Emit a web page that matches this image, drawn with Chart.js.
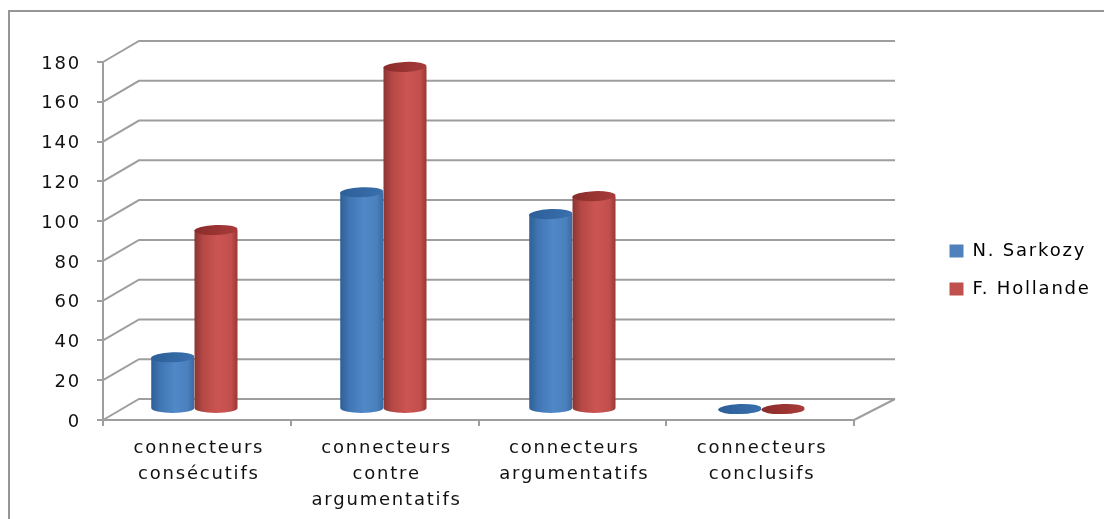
<!DOCTYPE html>
<html>
<head>
<meta charset="utf-8">
<title>Connecteurs</title>
<script src="https://cdn.jsdelivr.net/npm/chart.js@4"></script>
<style>
  html, body { margin: 0; padding: 0; background: #fff; }
  /* the reference is a soft, upscaled picture */
  canvas { display: block; filter: blur(0.5px); }
</style>
</head>
<body>
<canvas id="chart" width="1104" height="519"></canvas>
<script>
const categories = [
  ['connecteurs', 'consécutifs'],
  ['connecteurs', 'contre', 'argumentatifs'],
  ['connecteurs', 'argumentatifs'],
  ['connecteurs', 'conclusifs']
];
const sarkozy = [26, 109, 98, 0];
const hollande = [90, 172, 107, 0];
const seriesNames = ['N. Sarkozy', 'F. Hollande'];
const yTicks = [0, 20, 40, 60, 80, 100, 120, 140, 160, 180];

const fontName = '"DejaVu Sans", sans-serif';
const gridColor = '#9e9e9e';

// look of each cylinder: legend colour, side gradient, top cap
const looks = [
  { solid: '#4f81bd', capStops: ['#2d5f98', '#3a70ad'], stops: ['#2f5f96', '#3f75b2', '#5088c8', '#4a80bd', '#3a6aa2'] },
  { solid: '#c0504d', capStops: ['#8a2c2a', '#a83c3a'], stops: ['#8a3533', '#b54845', '#cc5552', '#c24f4c', '#9a3836'] }
];
const gradientStops = [0, 0.2, 0.55, 0.85, 1];

// 3D depth of the floor and walls
const backDx = 36, backDy = -21, rightDx = 41;
// cylinders stand half way through the depth, slightly wider spread than the axis
const barPivotX = 572, barSpread = 0.0067, barShiftY = -11, capRy = 5, capTilt = -0.04;

const chart3d = {
  id: 'chart3d',
  beforeDraw(chart) {
    const { ctx, width, height } = chart;
    ctx.letterSpacing = '1.8px';
    ctx.save();
    ctx.strokeStyle = '#969696';
    ctx.lineWidth = 2;
    ctx.beginPath();
    ctx.moveTo(9, height);
    ctx.lineTo(9, 11);
    ctx.lineTo(width, 11);
    ctx.stroke();
    ctx.restore();
  },
  afterLayout(chart) {
    // legend sits right of the plot, outside the chart area
    const legend = chart.legend;
    legend.left = 929.5;
    legend.right = 1100;
    legend.top = 222;
    legend.bottom = 500;
  },
  beforeDatasetsDraw(chart) {
    const { ctx, chartArea, scales } = chart;
    const left = chartArea.left, right = chartArea.right;
    ctx.save();
    ctx.strokeStyle = gridColor;
    ctx.lineWidth = 2;
    yTicks.forEach(v => {
      const y = scales.y.getPixelForValue(v);
      ctx.beginPath();
      ctx.moveTo(left, y);
      ctx.lineTo(left + backDx, y + backDy);
      ctx.lineTo(right + rightDx, y + backDy);
      ctx.stroke();
    });
    const y0 = scales.y.getPixelForValue(0);
    ctx.beginPath();
    ctx.moveTo(right, y0);
    ctx.lineTo(right + rightDx, y0 + backDy);
    ctx.stroke();
    ctx.restore();
  },
  afterDatasetsDraw(chart) {
    const { ctx } = chart;
    categories.forEach((c, i) => {
      looks.forEach((look, d) => {
        const bar = chart.getDatasetMeta(d).data[i];
        const x = bar.x + (bar.x - barPivotX) * barSpread, w = bar.width, rx = w / 2;
        const top = bar.y + barShiftY, base = bar.base + barShiftY;
        const grad = ctx.createLinearGradient(x - rx, 0, x + rx, 0);
        look.stops.forEach((s, k) => grad.addColorStop(gradientStops[k], s));
        ctx.save();
        ctx.fillStyle = grad;
        ctx.beginPath();
        ctx.moveTo(x - rx, top);
        ctx.lineTo(x - rx, base);
        ctx.ellipse(x, base, rx, capRy, 0, Math.PI, 0, true);
        ctx.lineTo(x + rx, top);
        ctx.closePath();
        ctx.fill();
        const capGrad = ctx.createLinearGradient(x - rx, 0, x + rx, 0);
        capGrad.addColorStop(0, look.capStops[0]);
        capGrad.addColorStop(1, look.capStops[1]);
        ctx.fillStyle = capGrad;
        ctx.beginPath();
        ctx.ellipse(x, top, rx, capRy, capTilt, 0, Math.PI * 2);
        ctx.fill();
        ctx.restore();
      });
    });
  }
};

new Chart(document.getElementById('chart'), {
  type: 'bar',
  plugins: [chart3d],
  data: {
    labels: categories,
    datasets: [
      { label: seriesNames[0], data: sarkozy, backgroundColor: 'transparent' },
      { label: seriesNames[1], data: hollande, backgroundColor: 'transparent' }
    ]
  },
  options: {
    responsive: false,
    animation: false,
    layout: { padding: { left: 0, right: 250, top: 62, bottom: 0 } },
    datasets: { bar: { categoryPercentage: 0.458, barPercentage: 1 } },
    plugins: {
      tooltip: { enabled: false },
      legend: {
        position: 'chartArea',
        align: 'start',
        labels: {
          boxWidth: 14,
          boxHeight: 13,
          padding: 20,
          color: '#111',
          font: { family: fontName, size: 18 },
          generateLabels: () => seriesNames.map((name, i) => ({
            text: name,
            fillStyle: looks[i].solid,
            strokeStyle: looks[i].solid,
            lineWidth: 0,
            datasetIndex: i
          }))
        }
      }
    },
    scales: {
      x: {
        afterFit: s => { s.height = 99; },
        border: { color: gridColor, width: 2 },
        grid: { drawOnChartArea: false, color: gridColor, lineWidth: 2, tickLength: 6 },
        ticks: {
          autoSkip: false,
          maxRotation: 0,
          minRotation: 0,
          padding: 10,
          labelOffset: 2,
          color: '#111',
          font: { family: fontName, size: 18, lineHeight: 1.42 }
        }
      },
      y: {
        min: 0,
        max: 180,
        afterFit: s => { s.width = 103; },
        afterBuildTicks: s => { s.ticks = yTicks.map(v => ({ value: v })); },
        border: { color: gridColor, width: 2 },
        grid: { drawOnChartArea: false, color: gridColor, lineWidth: 2, tickLength: 6 },
        ticks: { padding: 16, labelOffset: 2, color: '#111', font: { family: fontName, size: 18 } }
      }
    }
  }
});
</script>
</body>
</html>
